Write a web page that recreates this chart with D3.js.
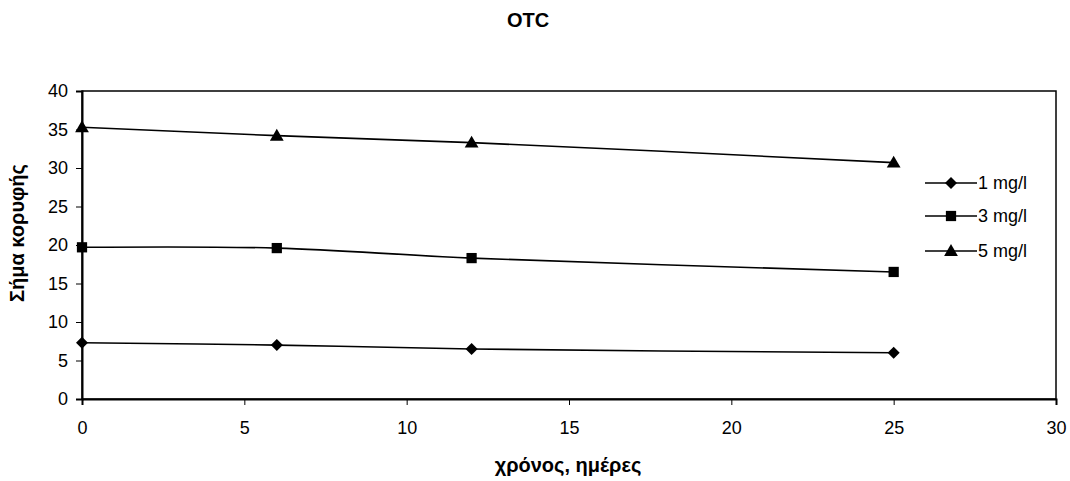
<!DOCTYPE html>
<html><head><meta charset="utf-8">
<script src="https://cdn.jsdelivr.net/npm/d3@7"></script>
<style>body{margin:0;background:#fff;} text{font-family:"Liberation Sans",Arial,sans-serif;}</style>
</head><body>
<svg id="c" width="1070" height="481"></svg>
<script>
const days = [0, 6, 12, 25];
const s1 = [7.3, 7.0, 6.5, 6.0];
const s3 = [19.7, 19.6, 18.3, 16.5];
const s5 = [35.3, 34.2, 33.3, 30.7];
const seriesNames = ["1 mg/l", "3 mg/l", "5 mg/l"];
const markerTypes = ["diamond", "square", "triangle"];
const xTicks = [0, 5, 10, 15, 20, 25, 30];
const yTicks = [0, 5, 10, 15, 20, 25, 30, 35, 40];
const title = "OTC";
const xLabel = "χρόνος, ημέρες";
const yLabel = "Σήμα κορυφής";

const svg = d3.select("#c");
const L = 82, R = 1056, T = 91, B = 399;
const x = d3.scaleLinear().domain([0, 30]).range([L, R]);
const y = d3.scaleLinear().domain([0, 40]).range([B, T]);

svg.append("rect").attr("x", L).attr("y", T).attr("width", R - L).attr("height", B - T)
  .attr("fill", "none").attr("stroke", "#000").attr("stroke-width", 1.5);

const xa = svg.append("g").attr("transform", `translate(0,${B})`)
  .call(d3.axisBottom(x).tickValues(xTicks).tickSize(6).tickPadding(16));
const ya = svg.append("g").attr("transform", `translate(${L},0)`)
  .call(d3.axisLeft(y).tickValues(yTicks).tickSize(6).tickPadding(8));
[xa, ya].forEach(a => {
  a.select(".domain").attr("stroke", "#000").attr("stroke-width", 2);
  a.selectAll(".tick line").attr("stroke", "#000").attr("stroke-width", 1);
  a.selectAll(".tick text").attr("font-size", 18).attr("fill", "#000")
    .attr("font-family", "Liberation Sans, Arial, sans-serif");
});

svg.append("text").attr("x", 528).attr("y", 27).attr("text-anchor", "middle")
  .attr("font-size", 20).attr("font-weight", "bold").text(title);
svg.append("text").attr("x", 568).attr("y", 472).attr("text-anchor", "middle")
  .attr("font-size", 20).attr("font-weight", "bold").text(xLabel);
svg.append("text").attr("transform", "translate(24,233) rotate(-90)").attr("text-anchor", "middle")
  .attr("font-size", 20).attr("font-weight", "bold").text(yLabel);

const symMap = {
  diamond: d3.symbol().type(d3.symbolDiamond2).size(92),
  square: d3.symbol().type(d3.symbolSquare).size(105),
  triangle: d3.symbol().type(d3.symbolTriangle).size(82)
};
const line = d3.line().x(d => x(d[0])).y(d => y(d[1])).curve(d3.curveCatmullRom.alpha(0.5));
const allSeries = [s1, s3, s5];
allSeries.forEach((s, i) => {
  const pts = days.map((d, j) => [d, s[j]]);
  svg.append("path").attr("d", line(pts)).attr("fill", "none").attr("stroke", "#000").attr("stroke-width", 1.6);
  svg.selectAll(null).data(pts).enter().append("path")
    .attr("d", symMap[markerTypes[i]])
    .attr("transform", d => `translate(${x(d[0])},${y(d[1]) + (markerTypes[i] === "triangle" ? 1 : 0)})`)
    .attr("fill", "#000");
});

const legY = [183, 216, 251];
seriesNames.forEach((n, i) => {
  const g = svg.append("g");
  g.append("line").attr("x1", 925).attr("x2", 977).attr("y1", legY[i]).attr("y2", legY[i])
    .attr("stroke", "#000").attr("stroke-width", 1.6);
  g.append("path").attr("d", symMap[markerTypes[i]])
    .attr("transform", `translate(951,${legY[i] + (markerTypes[i] === "triangle" ? 1 : 0)})`).attr("fill", "#000");
  g.append("text").attr("x", 978).attr("y", legY[i] + 6).attr("font-size", 18).text(n);
});
</script>
</body></html>
